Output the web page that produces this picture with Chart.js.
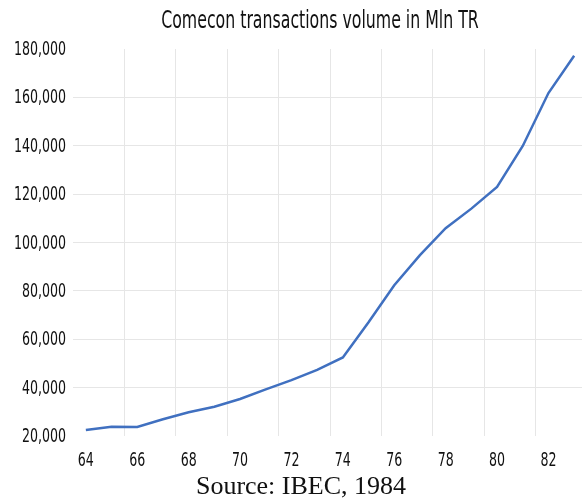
<!DOCTYPE html>
<html>
<head>
<meta charset="utf-8">
<script src="https://cdn.jsdelivr.net/npm/chart.js@4/dist/chart.umd.min.js"></script>
<style>
  html, body { margin: 0; padding: 0; width: 582px; height: 501px; overflow: hidden; background: #fff; }
  #wrap { position: absolute; left: 0; top: 0; width: 592px; height: 501px; }
  #title { position: absolute; left: 0; width: 640px; top: 8px; text-align: center; line-height: 24px;
           font-family: "DejaVu Sans Condensed", sans-serif; font-size: 24px; color: #111;
           transform: scaleX(0.73); transform-origin: 320px 0; white-space: nowrap; }
  #source { position: absolute; left: 0; width: 602px; top: 473px; text-align: center; line-height: 26px;
            font-family: "Liberation Serif", "Times New Roman", serif; font-size: 26px; color: #111; }
</style>
</head>
<body>
<div id="wrap"><canvas id="chart" width="592" height="501"></canvas></div>
<div id="title">Comecon transactions volume in Mln TR</div>
<div id="source">Source: IBEC, 1984</div>
<script>
const years = ['64','65','66','67','68','69','70','71','72','73',
               '74','75','76','77','78','79','80','81','82','83'];
const volume = [22500, 23800, 23700, 26900, 29800, 32100, 35300, 39300, 43100, 47300,
                52500, 67000, 82300, 94800, 105900, 114000, 123000, 139900, 161800, 177200];
const yMin = 20000;
const yMax = 180000;
const yStep = 20000;

// tick labels are squeezed sideways to look like the narrow font of the original
const squeeze = 0.7;
const condensedTicks = {
    id: 'condensedTicks',
    afterDraw(chart) {
        const ctx = chart.ctx;
        const xs = chart.scales.x;
        const ys = chart.scales.y;
        ctx.save();
        ctx.scale(squeeze, 1);
        ctx.font = '20px "DejaVu Sans Condensed", sans-serif';
        ctx.fillStyle = '#111';
        ctx.textBaseline = 'alphabetic';

        ctx.textAlign = 'right';
        ys.ticks.forEach((t, i) => {
            const y = ys.getPixelForTick(i);
            ctx.fillText(t.value.toLocaleString('en-US'), 66 / squeeze, y + 6);
        });

        ctx.textAlign = 'center';
        xs.ticks.forEach((t, i) => {
            if (i % 2 !== 0) return;
            const x = xs.getPixelForTick(i);
            ctx.fillText(years[i], x / squeeze, chart.chartArea.bottom + 30);
        });
        ctx.restore();
    }
};

new Chart(document.getElementById('chart'), {
    type: 'line',
    data: {
        labels: years,
        datasets: [{
            data: volume,
            borderColor: '#4070c0',
            borderWidth: 2.5,
            pointRadius: 0,
            tension: 0,
            fill: false,
        }]
    },
    options: {
        responsive: false,
        animation: false,
        layout: { padding: { top: 49, right: 5, left: 0, bottom: 0 } },
        plugins: { legend: { display: false }, tooltip: { enabled: false } },
        scales: {
            x: {
                type: 'category',
                offset: true,
                afterFit: s => { s.height = 65; },
                grid: {
                    offset: true,
                    drawTicks: false,
                    color: c => (c.index > 0 && c.index % 2 === 0) ? '#e6e6e6' : 'rgba(0,0,0,0)',
                    lineWidth: 1,
                },
                border: { display: false },
                ticks: {
                    autoSkip: false,
                    maxRotation: 0,
                    color: 'rgba(0,0,0,0)',
                }
            },
            y: {
                min: yMin,
                max: yMax,
                afterFit: s => { s.width = 73; },
                grid: {
                    drawTicks: false,
                    color: c => (c.tick.value > yMin && c.tick.value < yMax) ? '#e6e6e6' : 'rgba(0,0,0,0)',
                    lineWidth: 1,
                },
                border: { display: false },
                ticks: {
                    stepSize: yStep,
                    color: 'rgba(0,0,0,0)',
                }
            }
        }
    },
    plugins: [condensedTicks]
});
</script>
</body>
</html>
